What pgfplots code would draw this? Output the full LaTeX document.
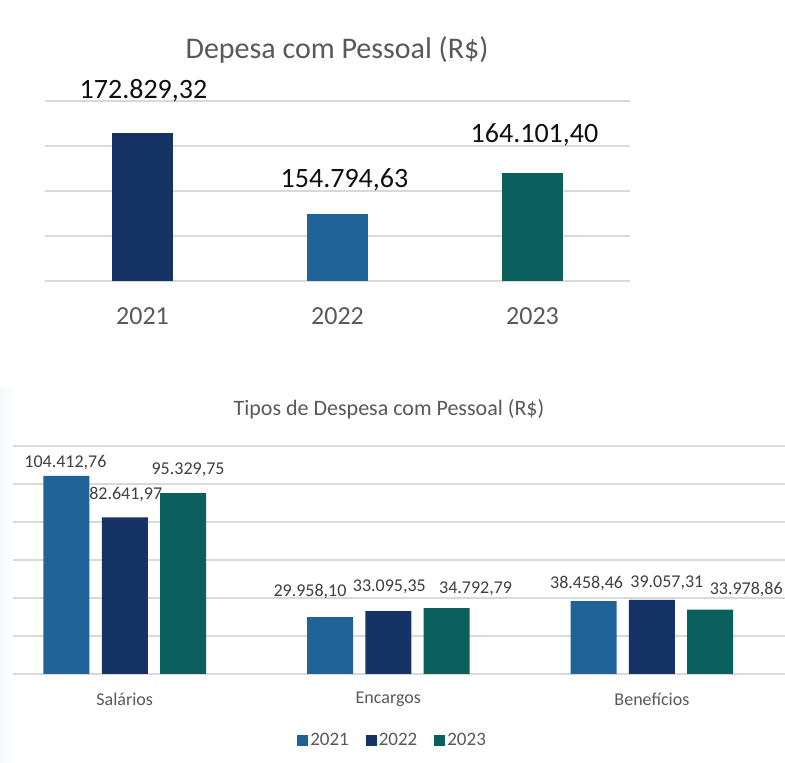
\documentclass[border=0pt]{standalone}
\usepackage{pgfplots}
\pgfplotsset{compat=1.18}
\usepackage{fontspec}
\setmainfont{Carlito}
\definecolor{navy}{RGB}{22,51,102}
\definecolor{midblue}{RGB}{31,99,153}
\definecolor{cteal}{RGB}{11,96,94}
\definecolor{gridc}{RGB}{217,217,217}
\definecolor{txtgray}{RGB}{89,89,89}
\definecolor{lblgray}{RGB}{64,64,64}
\definecolor{lblblack}{RGB}{15,15,15}
\definecolor{strip}{RGB}{244,249,252}
\begin{document}
\begin{tikzpicture}[x=1pt,y=1pt]
\useasboundingbox (0,0) rectangle (785,763);
\fill[white] (0,0) rectangle (785,763);
\shade[left color=strip, right color=white] (0,0) rectangle (14,375);
\node[font=\fontsize{30}{36}\selectfont, text=txtgray] at (337,713) {Depesa com Pessoal (R\$)};
\node[font=\fontsize{22}{26}\selectfont, text=txtgray] at (389,354) {Tipos de Despesa com Pessoal (R\$)};
% ---------- top chart ----------
\begin{axis}[at={(45pt,482pt)}, anchor=south west, scale only axis,
  width=585pt, height=180pt,
  xmin=-0.5, xmax=2.5, ymin=140000, ymax=180000,
  ytick={140000,150000,160000,170000,180000}, yticklabels={}, scaled y ticks=false,
  xtick={0,1,2}, xticklabels={2021,2022,2023},
  ymajorgrids, grid style={draw=gridc, line width=2pt},
  axis line style={draw=none}, major tick length=0pt,
  xticklabel style={font=\fontsize{26}{30}\selectfont, text=txtgray, anchor=center, yshift=-35pt},
  ybar, bar width=61pt, bar shift=0pt]
\addplot[fill=navy, draw=none] coordinates {(0,172829.32)};
\addplot[fill=midblue, draw=none] coordinates {(1,154794.63)};
\addplot[fill=cteal, draw=none] coordinates {(2,164101.40)};
\end{axis}
\begin{axis}[at={(45pt,482pt)}, anchor=south west, scale only axis,
  width=585pt, height=180pt,
  xmin=-0.5, xmax=2.5, ymin=140000, ymax=180000,
  hide axis, clip=false,
  point meta=explicit symbolic,
  visualization depends on={\thisrow{dx} \as \dx},
  visualization depends on={\thisrow{dy} \as \dy},
  nodes near coords,
  nodes near coords style={font=\fontsize{28}{32}\selectfont, text=lblblack, anchor=center, xshift=\dx pt, yshift=\dy pt}]
\addplot[draw=none, mark=none] table[x=x, y=y, meta=label] {
x y label dx dy
0 172829.32 172.829,32 1 43
1 154794.63 154.794,63 7 35
2 164101.40 164.101,40 2 38
};
\end{axis}
% ---------- bottom chart ----------
\begin{axis}[at={(13pt,89pt)}, anchor=south west, scale only axis,
  width=772pt, height=227.6pt,
  xmin=-0.424, xmax=2.505, ymin=0, ymax=120000,
  ytick={0,20000,40000,60000,80000,100000,120000}, yticklabels={}, scaled y ticks=false,
  xtick={0,1,2}, xticklabels={Salários,Encargos,Benefícios},
  ymajorgrids, grid style={draw=gridc, line width=1.8pt},
  axis line style={draw=none}, major tick length=0pt,
  xticklabel style={font=\fontsize{18}{22}\selectfont, text=txtgray, anchor=center, yshift=-25pt},
  ybar=12.3pt, bar width=46pt, clip=false,
  point meta=explicit symbolic,
  visualization depends on={\thisrow{dx} \as \dx},
  visualization depends on={\thisrow{dy} \as \dy},
  nodes near coords,
  nodes near coords style={font=\fontsize{18}{22}\selectfont, text=lblgray, anchor=center, xshift=\dx pt, yshift=\dy pt},
  legend image code/.code={\fill[#1] (0pt,-5.5pt) rectangle (11pt,5.5pt);},
  legend style={at={(0.4917,-0.29)}, anchor=center, draw=none, fill=none,
    font=\fontsize{19}{22}\selectfont, text=txtgray,
    /tikz/every even column/.append style={column sep=15pt}},
  legend columns=3]
\addplot[fill=midblue, draw=none] table[x=x, y=y, meta=label] {
x y label dx dy
0 104412.76 104.412,76 -1 13
1 29958.10 29.958,10 -20 25.6
2 38458.46 38.458,46 -7 18
};
\addplot[fill=navy, draw=none] table[x=x, y=y, meta=label] {
x y label dx dy
0 82641.97 82.641,97 1 23
1 33095.35 33.095,35 1 24
2 39057.31 39.057,31 15 17.4
};
\addplot[fill=cteal, draw=none] table[x=x, y=y, meta=label] {
x y label dx dy
0 95329.75 95.329,75 5 23.5
1 34792.79 34.792,79 29 19.5
2 33978.86 33.978,86 36 20
};
\legend{2021,2022,2023}
\end{axis}
\end{tikzpicture}
\end{document}
